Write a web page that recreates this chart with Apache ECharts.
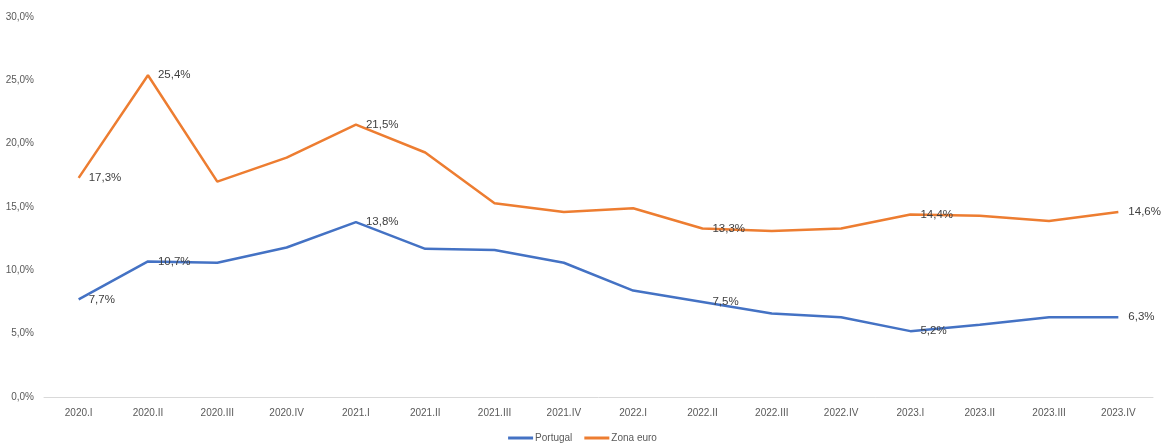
<!DOCTYPE html>
<html>
<head>
<meta charset="utf-8">
<script src="https://cdn.jsdelivr.net/npm/echarts@6/dist/echarts.min.js"></script>
<style>html,body{margin:0;padding:0;background:#fff}#c{width:1165px;height:447px}</style>
</head>
<body>
<div id="c"></div>
<script>
const categories = ['2020.I','2020.II','2020.III','2020.IV','2021.I','2021.II','2021.III','2021.IV','2022.I','2022.II','2022.III','2022.IV','2023.I','2023.II','2023.III','2023.IV'];
const portugal = [7.7,10.7,10.6,11.8,13.8,11.7,11.6,10.6,8.4,7.5,6.6,6.3,5.2,5.7,6.3,6.3];
const zonaEuro = [17.3,25.4,17.0,18.9,21.5,19.3,15.3,14.6,14.9,13.3,13.1,13.3,14.4,14.3,13.9,14.6];
const labelIdx = [0,1,4,9,12,15];
const yTicks = {min:0, max:30, interval:5};

const fontFam = '"Liberation Sans Narrow","Liberation Sans",Arial,sans-serif';
function fmt(v){ return v.toFixed(1).replace('.', ',') + '%'; }
function mk(name, arr, color){
  return {
    name: name, type: 'line', smooth: false,
    data: arr.map((v, i) => ({
      value: v,
      label: {show: labelIdx.includes(i)}
    })),
    symbol: 'circle', symbolSize: 0, showSymbol: true,
    lineStyle: {color: color, width: 2.5}, itemStyle: {color: color},
    label: {
      show: false, position: 'right', distance: 10, offset: [0, 1],
      color: '#404040', fontSize: 11.5, fontFamily: fontFam,
      formatter: p => fmt(p.value)
    },
    labelLayout: {hideOverlap: false},
    emphasis: {disabled: true}
  };
}
const chart = echarts.init(document.getElementById('c'));
chart.setOption({
  animation: false,
  textStyle: {fontFamily: fontFam},
  grid: {left: 44, right: 12, top: 17, bottom: 50, containLabel: false},
  legend: {
    bottom: -1, left: 'center', icon: 'rect', itemWidth: 25, itemHeight: 3, itemGap: 12,
    textStyle: {color: '#595959', fontSize: 10, fontFamily: fontFam, padding: [0,0,0,-3]},
    data: ['Portugal','Zona euro']
  },
  xAxis: {
    type: 'category', data: categories, boundaryGap: true,
    axisLine: {lineStyle: {color: '#d9d9d9', width: 1}},
    axisTick: {show: false},
    axisLabel: {color: '#595959', fontSize: 10, margin: 11, fontFamily: fontFam, interval: 0}
  },
  yAxis: {
    type: 'value', min: yTicks.min, max: yTicks.max, interval: yTicks.interval,
    axisLine: {show: false}, axisTick: {show: false}, splitLine: {show: false},
    axisLabel: {color: '#595959', fontSize: 10, margin: 10, fontFamily: fontFam, formatter: v => v.toFixed(1).replace('.', ',') + '%'}
  },
  series: [mk('Portugal', portugal, '#4472C4'), mk('Zona euro', zonaEuro, '#ED7D31')]
});
</script>
</body>
</html>
